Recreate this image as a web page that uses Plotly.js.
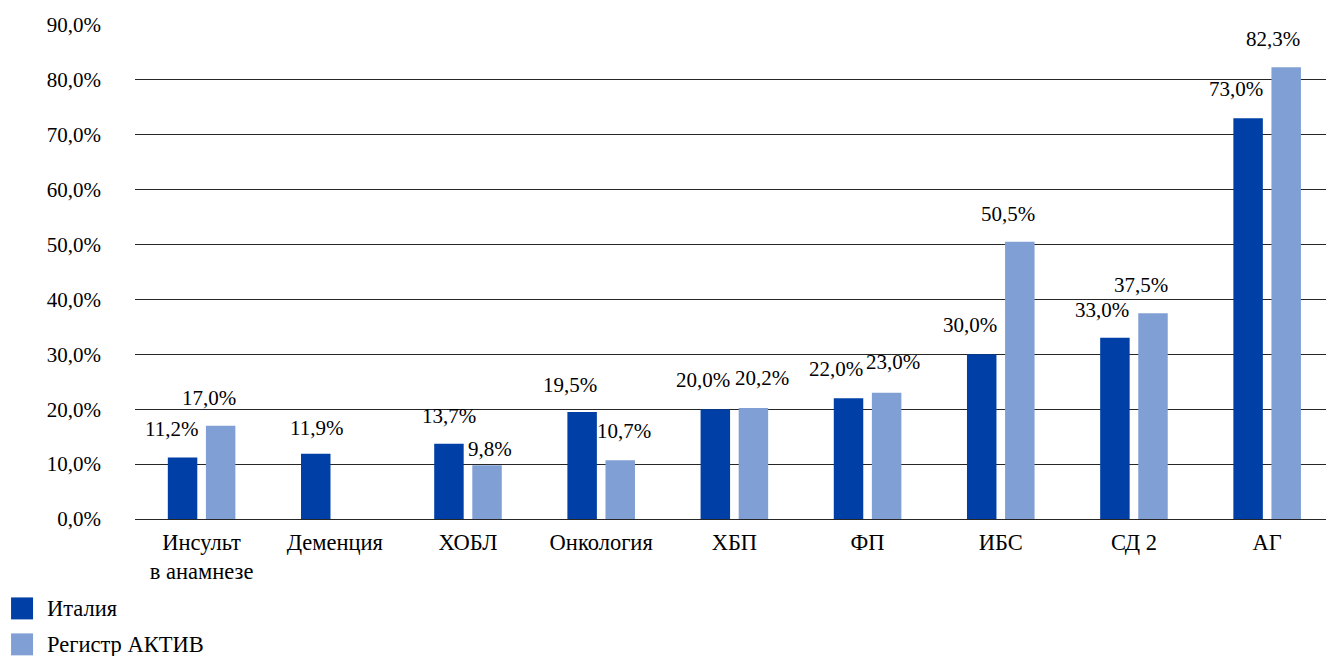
<!DOCTYPE html>
<html>
<head>
<meta charset="utf-8">
<script src="https://cdn.plot.ly/plotly-3.0.1.min.js"></script>
<style>html,body{margin:0;padding:0;background:#fff;}#chart{width:1326px;height:656px;}</style>
</head>
<body>
<div id="chart"></div>
<script>
// ---- data ----
const categories = ["Инсульт<br>в анамнезе", "Деменция", "ХОБЛ", "Онкология", "ХБП", "ФП", "ИБС", "СД 2", "АГ"];
const italyValues = [11.2, 11.9, 13.7, 19.5, 20.0, 22.0, 30.0, 33.0, 73.0];
const registryValues = [17.0, null, 9.8, 10.7, 20.2, 23.0, 50.5, 37.5, 82.3];
const seriesNames = ["Италия", "Регистр АКТИВ"];
const yTickValues = [0, 10, 20, 30, 40, 50, 60, 70, 80, 90];

// ---- label nudges (px), as placed in the original ----
const italyLabelDx = [-11.5, 1, 0, -12, -12.5, -12.5, -12, -13, -12.5];
const italyLabelDy = [29, 26, 28, 27, 29, 29, 29, 28, 29];
const registryLabelDx = [-12, 0, 2.5, 4, 9, 6, -12, -12, -13];
const registryLabelDy = [28, 0, 16, 29, 30, 31, 28, 28, 28];

const colors = ["#0040A6", "#809FD5"];
const FONT = '"Liberation Serif", "Times New Roman", Times, serif';

const W = 1326, H = 656;
const mL = 134.5, mR = 0, mT = 25, mB = 136.5;
const plotW = W - mL - mR, plotH = H - mT - mB;
const catStep = 133.25;

function fmt(v) { return v.toFixed(1).replace('.', ',') + '%'; }
function px2x(px) { return (px - mL) / plotW; }
function py2y(py) { return (H - mB - py) / plotH; }

const traces = [
  { type: 'bar', name: seriesNames[0], x: categories, y: italyValues,
    marker: { color: colors[0] }, hoverinfo: 'x+y' },
  { type: 'bar', name: seriesNames[1], x: categories, y: registryValues,
    marker: { color: colors[1] }, hoverinfo: 'x+y' }
];

const bargap = 0.428, bargroupgap = 0.226;
const slot = (1 - bargap) * catStep / 2;
const annotations = [];
[[italyValues, -slot / 2, italyLabelDx, italyLabelDy],
 [registryValues, slot / 2, registryLabelDx, registryLabelDy]].forEach(([vals, off, dxs, dys]) => {
  vals.forEach((v, i) => {
    if (v === null) return;
    annotations.push({
      x: categories[i], y: v, xref: 'x', yref: 'y',
      text: fmt(v), showarrow: false,
      xanchor: 'center', yanchor: 'middle',
      xshift: off + dxs[i], yshift: dys[i],
      font: { family: FONT, size: 21, color: '#000' }
    });
  });
});

// legend drawn manually (large square swatches)
const shapes = [];
const legendRows = [609, 645];
seriesNames.forEach((n, i) => {
  const cy = legendRows[i];
  shapes.push({ type: 'rect', xref: 'paper', yref: 'paper',
    x0: px2x(10.5), x1: px2x(32.5), y0: py2y(cy + 11), y1: py2y(cy - 11),
    fillcolor: colors[i], line: { width: 0 } });
  annotations.push({ xref: 'paper', yref: 'paper', x: px2x(44), y: py2y(cy),
    xanchor: 'left', yanchor: 'middle', showarrow: false, text: n,
    font: { family: FONT, size: 22.5, color: '#000' } });
});

const layout = {
  width: W, height: H,
  margin: { l: mL, r: mR, t: mT, b: mB, pad: 0 },
  paper_bgcolor: '#fff', plot_bgcolor: '#fff',
  barmode: 'group', bargap: bargap, bargroupgap: bargroupgap,
  showlegend: false,
  font: { family: FONT, size: 21, color: '#000' },
  xaxis: {
    type: 'category', range: [-0.5, -0.5 + plotW / catStep],
    showgrid: false, zeroline: false, showline: false, ticks: '',
    ticklabelstandoff: 7,
    tickfont: { family: FONT, size: 22.5, color: '#000' }
  },
  yaxis: {
    range: [0, 90], tickvals: yTickValues, ticktext: yTickValues.map(fmt),
    showgrid: true, gridcolor: '#262626', gridwidth: 1,
    zeroline: true, zerolinecolor: '#262626', zerolinewidth: 1,
    showline: false, ticks: '', ticklabelstandoff: 33,
    tickfont: { family: FONT, size: 21, color: '#000' }
  },
  annotations: annotations,
  shapes: shapes
};

Plotly.newPlot('chart', traces, layout, { displayModeBar: false, staticPlot: true });
</script>
</body>
</html>
